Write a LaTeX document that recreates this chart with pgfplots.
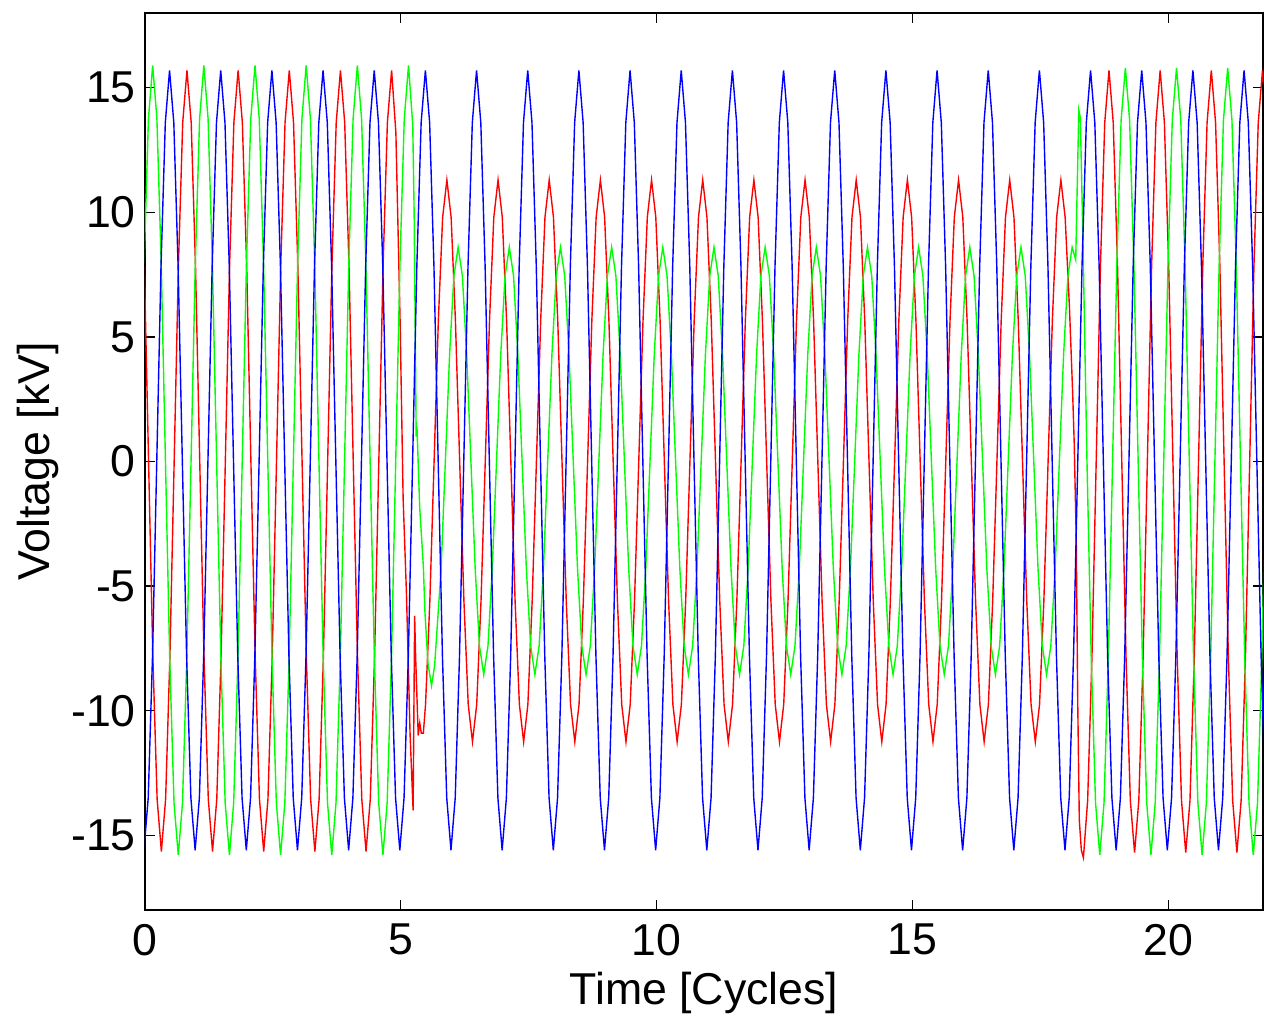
\documentclass[border=0pt]{standalone}
\usepackage{fontspec}
\setmainfont{Liberation Sans}
\usepackage{pgfplots}
\pgfplotsset{compat=1.18}
\begin{document}
\begin{tikzpicture}
\useasboundingbox (-36.25bp,-27.25bp) rectangle (279.75bp,227.5bp);
\begin{axis}[
  scale only axis, width=279.5bp, height=224.25bp,
  at={(0,0)}, anchor=south west,
  xmin=0, xmax=21.85, ymin=-18, ymax=18,
  xtick={0,5,10,15,20}, xticklabels={0,5,10,15,20},
  ytick={-15,-10,-5,0,5,10,15}, yticklabels={-15,-10,-5,0,5,10,15},
  tick align=inside, major tick length=2.5bp,
  tick style={black, line width=0.3pt},
  axis line style={line width=0.35pt},
  every tick label/.append style={font=\fontsize{11.2}{13}\selectfont},
  yticklabel style={xshift=1.2bp},
  label style={font=\fontsize{11.2}{13}\selectfont},
  xlabel={Time [Cycles]}, ylabel={Voltage [kV]},
  xlabel style={at={(axis description cs:0.5,-0.0925)}, anchor=center},
  ylabel style={at={(axis description cs:-0.0957,0.5)}, anchor=center},
]
% red phase
\addplot[red, line width=0.35pt] coordinates {
(-0.013,7.85)
(0.07,0)(0.153,-7.8)(0.237,-13.55)(0.32,-15.65)(0.403,-13.55)(0.487,-7.8)(0.57,0)(0.653,7.85)(0.737,13.6)(0.82,15.7)(0.903,13.6)(0.987,7.85)
(1.07,0)(1.153,-7.8)(1.237,-13.55)(1.32,-15.65)(1.403,-13.55)(1.487,-7.8)(1.57,0)(1.653,7.85)(1.737,13.6)(1.82,15.7)(1.903,13.6)(1.987,7.85)
(2.07,0)(2.153,-7.8)(2.237,-13.55)(2.32,-15.65)(2.403,-13.55)(2.487,-7.8)(2.57,0)(2.653,7.85)(2.737,13.6)(2.82,15.7)(2.903,13.6)(2.987,7.85)
(3.07,0)(3.153,-7.8)(3.237,-13.55)(3.32,-15.65)(3.403,-13.55)(3.487,-7.8)(3.57,0)(3.653,7.85)(3.737,13.6)(3.82,15.7)(3.903,13.6)(3.987,7.85)
(4.07,0)(4.153,-7.8)(4.237,-13.55)(4.32,-15.65)(4.403,-13.55)(4.487,-7.8)(4.57,0)(4.653,7.85)(4.737,13.6)(4.82,15.7)(4.903,13.2)(4.987,5.5)
(5.045,-1.5)(5.11,-5.3)(5.18,-10.9)(5.24,-14.0)(5.27,-6.2)(5.29,-7.9)(5.34,-11.0)(5.37,-10.5)(5.40,-10.9)(5.44,-10.9)(5.483,-9.75)(5.567,-5.6)(5.65,0)(5.733,5.65)(5.817,9.8)(5.90,11.3)(5.983,9.8)
(6.067,5.65)(6.15,0)(6.233,-5.6)(6.317,-9.75)(6.40,-11.25)(6.483,-9.75)(6.567,-5.6)(6.65,0)(6.733,5.65)(6.817,9.8)(6.90,11.3)(6.983,9.8)
(7.067,5.65)(7.15,0)(7.233,-5.6)(7.317,-9.75)(7.40,-11.25)(7.483,-9.75)(7.567,-5.6)(7.65,0)(7.733,5.65)(7.817,9.8)(7.90,11.3)(7.983,9.8)
(8.067,5.65)(8.15,0)(8.233,-5.6)(8.317,-9.75)(8.40,-11.25)(8.483,-9.75)(8.567,-5.6)(8.65,0)(8.733,5.65)(8.817,9.8)(8.90,11.3)(8.983,9.8)
(9.067,5.65)(9.15,0)(9.233,-5.6)(9.317,-9.75)(9.40,-11.25)(9.483,-9.75)(9.567,-5.6)(9.65,0)(9.733,5.65)(9.817,9.8)(9.90,11.3)(9.983,9.8)
(10.067,5.65)(10.15,0)(10.233,-5.6)(10.317,-9.75)(10.40,-11.25)(10.483,-9.75)(10.567,-5.6)(10.65,0)(10.733,5.65)(10.817,9.8)(10.90,11.3)(10.983,9.8)
(11.067,5.65)(11.15,0)(11.233,-5.6)(11.317,-9.75)(11.40,-11.25)(11.483,-9.75)(11.567,-5.6)(11.65,0)(11.733,5.65)(11.817,9.8)(11.90,11.3)(11.983,9.8)
(12.067,5.65)(12.15,0)(12.233,-5.6)(12.317,-9.75)(12.40,-11.25)(12.483,-9.75)(12.567,-5.6)(12.65,0)(12.733,5.65)(12.817,9.8)(12.90,11.3)(12.983,9.8)
(13.067,5.65)(13.15,0)(13.233,-5.6)(13.317,-9.75)(13.40,-11.25)(13.483,-9.75)(13.567,-5.6)(13.65,0)(13.733,5.65)(13.817,9.8)(13.90,11.3)(13.983,9.8)
(14.067,5.65)(14.15,0)(14.233,-5.6)(14.317,-9.75)(14.40,-11.25)(14.483,-9.75)(14.567,-5.6)(14.65,0)(14.733,5.65)(14.817,9.8)(14.90,11.3)(14.983,9.8)
(15.067,5.65)(15.15,0)(15.233,-5.6)(15.317,-9.75)(15.40,-11.25)(15.483,-9.75)(15.567,-5.6)(15.65,0)(15.733,5.65)(15.817,9.8)(15.90,11.3)(15.983,9.8)
(16.067,5.65)(16.15,0)(16.233,-5.6)(16.317,-9.75)(16.40,-11.25)(16.483,-9.75)(16.567,-5.6)(16.65,0)(16.733,5.65)(16.817,9.8)(16.90,11.3)(16.983,9.8)
(17.067,5.65)(17.15,0)(17.233,-5.6)(17.317,-9.75)(17.40,-11.25)(17.483,-9.75)(17.567,-5.6)(17.65,0)(17.733,5.65)(17.817,9.8)(17.90,11.3)(17.983,9.8)
(18.067,6.2)(18.13,2.75)(18.16,0.75)(18.20,-3.1)(18.23,-9.8)(18.26,-14.4)(18.30,-15.6)
(18.34,-15.9)(18.423,-13.6)(18.507,-7.85)(18.59,0)(18.673,7.85)(18.757,13.6)(18.84,15.7)(18.923,13.6)(19.007,7.85)(19.09,0)(19.173,-7.85)(19.257,-13.6)
(19.34,-15.7)(19.423,-13.6)(19.507,-7.85)(19.59,0)(19.673,7.85)(19.757,13.6)(19.84,15.7)(19.923,13.6)(20.007,7.85)(20.09,0)(20.173,-7.85)(20.257,-13.6)
(20.34,-15.7)(20.423,-13.6)(20.507,-7.85)(20.59,0)(20.673,7.85)(20.757,13.6)(20.84,15.7)(20.923,13.6)(21.007,7.85)(21.09,0)(21.173,-7.85)(21.257,-13.6)
(21.34,-15.7)(21.423,-13.6)(21.507,-7.85)(21.59,0)(21.673,7.85)(21.757,13.6)(21.84,15.7)(21.923,13.6)
};
% green phase
\addplot[green, line width=0.35pt] coordinates {
(-0.017,7.95)
(0.067,13.75)(0.15,15.9)(0.233,13.75)(0.317,7.95)(0.40,0)(0.483,-7.9)(0.567,-13.7)(0.65,-15.8)(0.733,-13.7)(0.817,-7.9)(0.90,0)(0.983,7.95)
(1.067,13.75)(1.15,15.9)(1.233,13.75)(1.317,7.95)(1.40,0)(1.483,-7.9)(1.567,-13.7)(1.65,-15.8)(1.733,-13.7)(1.817,-7.9)(1.90,0)(1.983,7.95)
(2.067,13.75)(2.15,15.9)(2.233,13.75)(2.317,7.95)(2.40,0)(2.483,-7.9)(2.567,-13.7)(2.65,-15.8)(2.733,-13.7)(2.817,-7.9)(2.90,0)(2.983,7.95)
(3.067,13.75)(3.15,15.9)(3.233,13.75)(3.317,7.95)(3.40,0)(3.483,-7.9)(3.567,-13.7)(3.65,-15.8)(3.733,-13.7)(3.817,-7.9)(3.90,0)(3.983,7.95)
(4.067,13.75)(4.15,15.9)(4.233,13.75)(4.317,7.95)(4.40,0)(4.483,-7.9)(4.567,-13.7)(4.65,-15.8)(4.733,-13.7)(4.817,-7.9)(4.90,0)(4.983,7.95)
(5.067,13.75)(5.15,15.9)(5.233,13.5)(5.26,10.0)(5.30,1.0)(5.315,1.4)(5.37,-1.9)(5.44,-4.2)(5.47,-6.0)(5.53,-8.1)(5.60,-9.0)(5.66,-8.2)(5.787,-4.3)(5.87,0)(5.953,4.3)
(6.037,7.45)(6.12,8.6)(6.203,7.45)(6.287,4.3)(6.37,0)(6.453,-4.3)(6.537,-7.4)(6.62,-8.55)(6.703,-7.4)(6.787,-4.3)(6.87,0)(6.953,4.3)
(7.037,7.45)(7.12,8.6)(7.203,7.45)(7.287,4.3)(7.37,0)(7.453,-4.3)(7.537,-7.4)(7.62,-8.55)(7.703,-7.4)(7.787,-4.3)(7.87,0)(7.953,4.3)
(8.037,7.45)(8.12,8.6)(8.203,7.45)(8.287,4.3)(8.37,0)(8.453,-4.3)(8.537,-7.4)(8.62,-8.55)(8.703,-7.4)(8.787,-4.3)(8.87,0)(8.953,4.3)
(9.037,7.45)(9.12,8.6)(9.203,7.45)(9.287,4.3)(9.37,0)(9.453,-4.3)(9.537,-7.4)(9.62,-8.55)(9.703,-7.4)(9.787,-4.3)(9.87,0)(9.953,4.3)
(10.037,7.45)(10.12,8.6)(10.203,7.45)(10.287,4.3)(10.37,0)(10.453,-4.3)(10.537,-7.4)(10.62,-8.55)(10.703,-7.4)(10.787,-4.3)(10.87,0)(10.953,4.3)
(11.037,7.45)(11.12,8.6)(11.203,7.45)(11.287,4.3)(11.37,0)(11.453,-4.3)(11.537,-7.4)(11.62,-8.55)(11.703,-7.4)(11.787,-4.3)(11.87,0)(11.953,4.3)
(12.037,7.45)(12.12,8.6)(12.203,7.45)(12.287,4.3)(12.37,0)(12.453,-4.3)(12.537,-7.4)(12.62,-8.55)(12.703,-7.4)(12.787,-4.3)(12.87,0)(12.953,4.3)
(13.037,7.45)(13.12,8.6)(13.203,7.45)(13.287,4.3)(13.37,0)(13.453,-4.3)(13.537,-7.4)(13.62,-8.55)(13.703,-7.4)(13.787,-4.3)(13.87,0)(13.953,4.3)
(14.037,7.45)(14.12,8.6)(14.203,7.45)(14.287,4.3)(14.37,0)(14.453,-4.3)(14.537,-7.4)(14.62,-8.55)(14.703,-7.4)(14.787,-4.3)(14.87,0)(14.953,4.3)
(15.037,7.45)(15.12,8.6)(15.203,7.45)(15.287,4.3)(15.37,0)(15.453,-4.3)(15.537,-7.4)(15.62,-8.55)(15.703,-7.4)(15.787,-4.3)(15.87,0)(15.953,4.3)
(16.037,7.45)(16.12,8.6)(16.203,7.45)(16.287,4.3)(16.37,0)(16.453,-4.3)(16.537,-7.4)(16.62,-8.55)(16.703,-7.4)(16.787,-4.3)(16.87,0)(16.953,4.3)
(17.037,7.45)(17.12,8.6)(17.203,7.45)(17.287,4.3)(17.37,0)(17.453,-4.3)(17.537,-7.4)(17.62,-8.55)(17.703,-7.4)(17.787,-4.3)(17.87,0)(17.953,4.3)
(18.037,7.45)(18.12,8.6)(18.19,8.1)(18.25,14.1)(18.28,13.8)(18.33,9.0)(18.41,0)(18.493,-7.9)(18.577,-13.7)(18.66,-15.8)(18.743,-13.7)(18.827,-7.9)(18.91,0)(18.993,7.9)
(19.077,13.7)(19.16,15.8)(19.243,13.7)(19.327,7.9)(19.41,0)(19.493,-7.9)(19.577,-13.7)(19.66,-15.8)(19.743,-13.7)(19.827,-7.9)(19.91,0)(19.993,7.9)
(20.077,13.7)(20.16,15.8)(20.243,13.7)(20.327,7.9)(20.41,0)(20.493,-7.9)(20.577,-13.7)(20.66,-15.8)(20.743,-13.7)(20.827,-7.9)(20.91,0)(20.993,7.9)
(21.077,13.7)(21.16,15.8)(21.243,13.7)(21.327,7.9)(21.41,0)(21.493,-7.9)(21.577,-13.7)(21.66,-15.8)(21.743,-13.7)(21.827,-7.9)(21.91,0)(21.993,7.9)
};
% blue phase
\addplot[blue, line width=0.35pt] coordinates {
(-0.02,-15.6)(0.063,-13.5)(0.147,-7.8)(0.23,0)(0.313,7.85)(0.397,13.6)(0.48,15.7)(0.563,13.6)(0.647,7.85)(0.73,0)(0.813,-7.8)(0.897,-13.5)
(0.98,-15.6)(1.063,-13.5)(1.147,-7.8)(1.23,0)(1.313,7.85)(1.397,13.6)(1.48,15.7)(1.563,13.6)(1.647,7.85)(1.73,0)(1.813,-7.8)(1.897,-13.5)
(1.98,-15.6)(2.063,-13.5)(2.147,-7.8)(2.23,0)(2.313,7.85)(2.397,13.6)(2.48,15.7)(2.563,13.6)(2.647,7.85)(2.73,0)(2.813,-7.8)(2.897,-13.5)
(2.98,-15.6)(3.063,-13.5)(3.147,-7.8)(3.23,0)(3.313,7.85)(3.397,13.6)(3.48,15.7)(3.563,13.6)(3.647,7.85)(3.73,0)(3.813,-7.8)(3.897,-13.5)
(3.98,-15.6)(4.063,-13.5)(4.147,-7.8)(4.23,0)(4.313,7.85)(4.397,13.6)(4.48,15.7)(4.563,13.6)(4.647,7.85)(4.73,0)(4.813,-7.8)(4.897,-13.5)
(4.98,-15.6)(5.063,-13.5)(5.147,-7.8)(5.23,0)(5.313,7.85)(5.397,13.6)(5.48,15.7)(5.563,13.6)(5.647,7.85)(5.73,0)(5.813,-7.8)(5.897,-13.5)
(5.98,-15.6)(6.063,-13.5)(6.147,-7.8)(6.23,0)(6.313,7.85)(6.397,13.6)(6.48,15.7)(6.563,13.6)(6.647,7.85)(6.73,0)(6.813,-7.8)(6.897,-13.5)
(6.98,-15.6)(7.063,-13.5)(7.147,-7.8)(7.23,0)(7.313,7.85)(7.397,13.6)(7.48,15.7)(7.563,13.6)(7.647,7.85)(7.73,0)(7.813,-7.8)(7.897,-13.5)
(7.98,-15.6)(8.063,-13.5)(8.147,-7.8)(8.23,0)(8.313,7.85)(8.397,13.6)(8.48,15.7)(8.563,13.6)(8.647,7.85)(8.73,0)(8.813,-7.8)(8.897,-13.5)
(8.98,-15.6)(9.063,-13.5)(9.147,-7.8)(9.23,0)(9.313,7.85)(9.397,13.6)(9.48,15.7)(9.563,13.6)(9.647,7.85)(9.73,0)(9.813,-7.8)(9.897,-13.5)
(9.98,-15.6)(10.063,-13.5)(10.147,-7.8)(10.23,0)(10.313,7.85)(10.397,13.6)(10.48,15.7)(10.563,13.6)(10.647,7.85)(10.73,0)(10.813,-7.8)(10.897,-13.5)
(10.98,-15.6)(11.063,-13.5)(11.147,-7.8)(11.23,0)(11.313,7.85)(11.397,13.6)(11.48,15.7)(11.563,13.6)(11.647,7.85)(11.73,0)(11.813,-7.8)(11.897,-13.5)
(11.98,-15.6)(12.063,-13.5)(12.147,-7.8)(12.23,0)(12.313,7.85)(12.397,13.6)(12.48,15.7)(12.563,13.6)(12.647,7.85)(12.73,0)(12.813,-7.8)(12.897,-13.5)
(12.98,-15.6)(13.063,-13.5)(13.147,-7.8)(13.23,0)(13.313,7.85)(13.397,13.6)(13.48,15.7)(13.563,13.6)(13.647,7.85)(13.73,0)(13.813,-7.8)(13.897,-13.5)
(13.98,-15.6)(14.063,-13.5)(14.147,-7.8)(14.23,0)(14.313,7.85)(14.397,13.6)(14.48,15.7)(14.563,13.6)(14.647,7.85)(14.73,0)(14.813,-7.8)(14.897,-13.5)
(14.98,-15.6)(15.063,-13.5)(15.147,-7.8)(15.23,0)(15.313,7.85)(15.397,13.6)(15.48,15.7)(15.563,13.6)(15.647,7.85)(15.73,0)(15.813,-7.8)(15.897,-13.5)
(15.98,-15.6)(16.063,-13.5)(16.147,-7.8)(16.23,0)(16.313,7.85)(16.397,13.6)(16.48,15.7)(16.563,13.6)(16.647,7.85)(16.73,0)(16.813,-7.8)(16.897,-13.5)
(16.98,-15.6)(17.063,-13.5)(17.147,-7.8)(17.23,0)(17.313,7.85)(17.397,13.6)(17.48,15.7)(17.563,13.6)(17.647,7.85)(17.73,0)(17.813,-7.8)(17.897,-13.5)
(17.98,-15.6)(18.063,-13.5)(18.147,-7.8)(18.23,0)(18.313,7.85)(18.397,13.6)(18.48,15.7)(18.563,13.6)(18.647,7.85)(18.73,0)(18.813,-7.8)(18.897,-13.5)
(18.98,-15.6)(19.063,-13.5)(19.147,-7.8)(19.23,0)(19.313,7.85)(19.397,13.6)(19.48,15.7)(19.563,13.6)(19.647,7.85)(19.73,0)(19.813,-7.8)(19.897,-13.5)
(19.98,-15.6)(20.063,-13.5)(20.147,-7.8)(20.23,0)(20.313,7.85)(20.397,13.6)(20.48,15.7)(20.563,13.6)(20.647,7.85)(20.73,0)(20.813,-7.8)(20.897,-13.5)
(20.98,-15.6)(21.063,-13.5)(21.147,-7.8)(21.23,0)(21.313,7.85)(21.397,13.6)(21.48,15.7)(21.563,13.6)(21.647,7.85)(21.73,0)(21.813,-7.8)(21.897,-13.5)
};
\end{axis}
\end{tikzpicture}
\end{document}
